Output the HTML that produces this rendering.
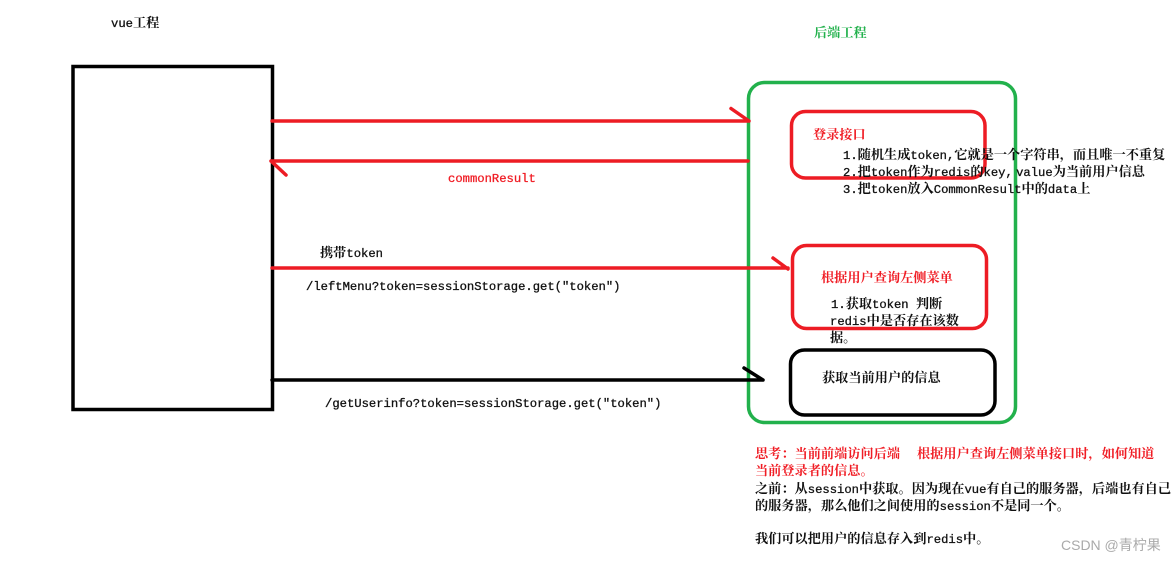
<!DOCTYPE html>
<html lang="zh-CN">
<head>
<meta charset="utf-8">
<title>diagram</title>
<style>
html,body{margin:0;padding:0;background:#fff;width:1176px;height:561px;overflow:hidden}
svg{display:block;filter:blur(.35px)}
text{font-family:"Noto Serif CJK SC","Noto Sans CJK SC",serif;font-size:13.2px;font-weight:700;fill:#111;white-space:pre}
tspan.l{font-family:"Liberation Mono",monospace;font-size:12.2px;font-weight:400;stroke:currentColor;stroke-width:.3px}
.k{color:#111}
.r{fill:#f01c24;color:#f01c24}
.g{fill:#22b14c}
.wm{font-family:"Liberation Sans","Noto Sans CJK SC",sans-serif;font-size:14px;font-weight:400;fill:#aaa}
.wm tspan{font-family:"Noto Sans CJK SC",sans-serif}
.s{fill:none;stroke-width:3.5;stroke-linecap:round;stroke-linejoin:round}
</style>
</head>
<body>
<svg width="1176" height="561" viewBox="0 0 1176 561" xmlns="http://www.w3.org/2000/svg">
<rect x="0" y="0" width="1176" height="561" fill="#fff"/>
<!-- left box -->
<rect x="73" y="66.500" width="199.500" height="343" fill="none" stroke="#000" stroke-width="3.500"/>
<!-- green box -->
<rect x="748.500" y="82.500" width="267" height="340" rx="16" class="s" stroke="#22b14c"/>
<!-- inner boxes -->
<rect x="791.500" y="111.500" width="193.500" height="66.500" rx="14" class="s" stroke="#ed1c24"/>
<rect x="792.500" y="245.500" width="194" height="83" rx="14" class="s" stroke="#ed1c24"/>
<rect x="790.500" y="350" width="204.500" height="65" rx="14" class="s" stroke="#000"/>
<!-- connectors -->
<path d="M272 121H749M731 108.500L749 121" class="s" stroke="#ed1c24"/>
<path d="M748 161H271M271 161L286 175" class="s" stroke="#ed1c24"/>
<path d="M272 268H788M773 258L788 269" class="s" stroke="#ed1c24"/>
<path d="M272 380H763M744 368L763 380" class="s" stroke="#000"/>
<!-- labels -->
<g class="k">
<text x="111" y="27"><tspan class="l">vue</tspan>工程</text>
<text x="843" y="159"><tspan class="l">1.</tspan>随机生成<tspan class="l">token,</tspan>它就是一个字符串，而且唯一不重复</text>
<text x="843" y="176"><tspan class="l">2.</tspan>把<tspan class="l">token</tspan>作为<tspan class="l">redis</tspan>的<tspan class="l">key,</tspan> <tspan class="l">value</tspan>为当前用户信息</text>
<text x="843" y="193"><tspan class="l">3.</tspan>把<tspan class="l">token</tspan>放入<tspan class="l">CommonResult</tspan>中的<tspan class="l">data</tspan>上</text>
<text x="320" y="257">携带<tspan class="l">token</tspan></text>
<text x="306" y="290"><tspan class="l">/leftMenu?token=sessionStorage.get("token")</tspan></text>
<text x="325" y="407"><tspan class="l">/getUserinfo?token=sessionStorage.get("token")</tspan></text>
<text x="831" y="308"><tspan class="l">1.</tspan>获取<tspan class="l">token </tspan>判断</text>
<text x="830" y="325"><tspan class="l">redis</tspan>中是否存在该数</text>
<text x="830" y="342">据。</text>
<text x="822" y="382">获取当前用户的信息</text>
<text x="755" y="493">之前：从<tspan class="l">session</tspan>中获取。因为现在<tspan class="l">vue</tspan>有自己的服务器，后端也有自己</text>
<text x="755" y="510">的服务器，那么他们之间使用的<tspan class="l">session</tspan>不是同一个。</text>
<text x="755" y="543">我们可以把用户的信息存入到<tspan class="l">redis</tspan>中。</text>
</g>
<text x="814" y="37" class="g">后端工程</text>
<text x="813" y="139" class="r">登录接口</text>
<text x="448" y="182" class="r"><tspan class="l">commonResult</tspan></text>
<text x="821" y="282" class="r">根据用户查询左侧菜单</text>
<text x="755" y="458" class="r">思考：当前前端访问后端</text>
<text x="917" y="458" class="r">根据用户查询左侧菜单接口时，如何知道</text>
<text x="755" y="475" class="r">当前登录者的信息。</text>
<text x="1061" y="550" class="wm">CSDN @<tspan>青柠果</tspan></text>
</svg>
</body>
</html>
